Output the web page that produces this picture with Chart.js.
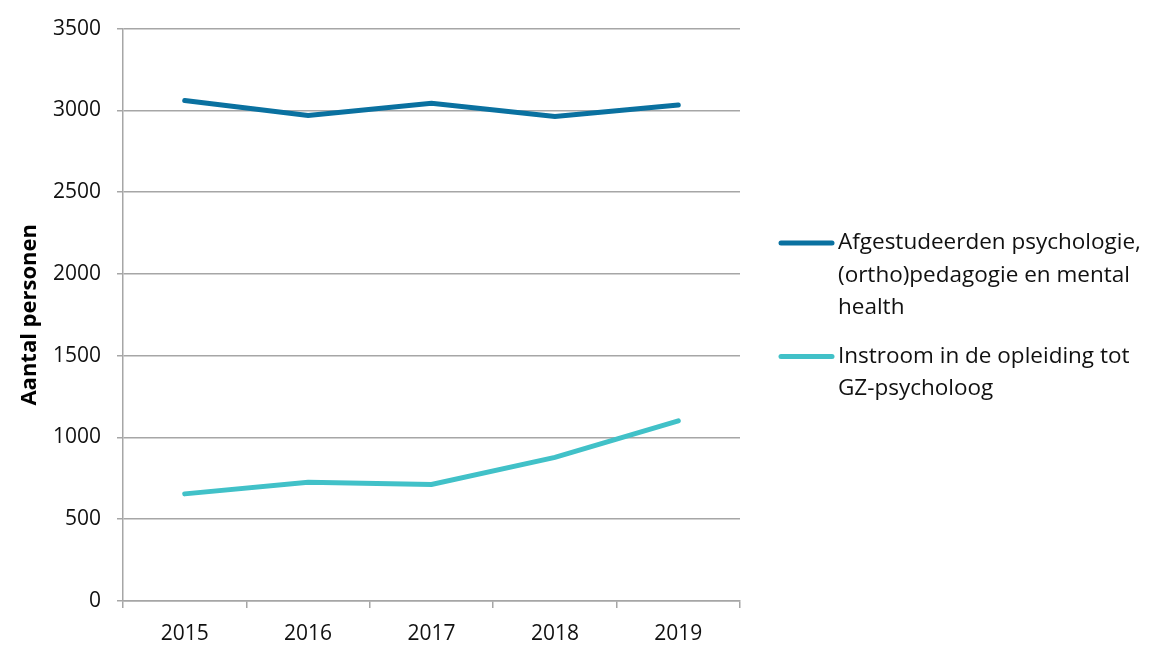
<!DOCTYPE html>
<html>
<head>
<meta charset="utf-8">
<script src="https://cdn.jsdelivr.net/npm/chart.js@4"></script>
<style>
  html, body { margin: 0; padding: 0; background: #fff; }
  #wrap { width: 1158px; height: 646px; }
</style>
</head>
<body>
<div id="wrap"><canvas id="myChart" width="1158" height="646"></canvas></div>
<script>
// chart data
const years = ['2015', '2016', '2017', '2018', '2019'];
const afgestudeerden = [3060, 2968, 3043, 2962, 3033];
const instroom = [655, 726, 712, 878, 1102];
const seriesNames = [
  ['Afgestudeerden psychologie,', '(ortho)pedagogie en mental', 'health'],
  ['Instroom in de opleiding tot', 'GZ-psycholoog']
];
const yTicks = [0, 500, 1000, 1500, 2000, 2500, 3000, 3500];

const FONT = '"Open Sans", sans-serif';
const gridGrey = '#a6a6a6';

/**
 * draws the legend on the right side, with wrapped labels like the original
 */
const sideLegend = {
  id: 'sideLegend',
  afterDraw (chart) {
    const ctx = chart.ctx;
    const lineH = 32.5;
    let y = 243;
    ctx.save();
    chart.data.datasets.forEach((ds, i) => {
      ctx.strokeStyle = ds.borderColor;
      ctx.lineWidth = 5;
      ctx.lineCap = 'round';
      ctx.beginPath();
      ctx.moveTo(781, y);
      ctx.lineTo(832, y);
      ctx.stroke();
      ctx.fillStyle = '#111';
      ctx.font = '22.5px ' + FONT;
      ctx.textBaseline = 'middle';
      ctx.textAlign = 'left';
      seriesNames[i].forEach((txt, j) => {
        ctx.fillText(txt, 838, y + j * lineH);
      });
      y += seriesNames[i].length * lineH + 16;
    });
    ctx.restore();
  }
};

const data = {
  labels: years,
  datasets: [{
    label: seriesNames[0].join(' '),
    data: afgestudeerden,
    borderColor: '#0a71a0',
    backgroundColor: '#0a71a0',
    borderWidth: 5,
    borderCapStyle: 'round',
    pointRadius: 0,
    tension: 0
  }, {
    label: seriesNames[1].join(' '),
    data: instroom,
    borderColor: '#41c1c8',
    backgroundColor: '#41c1c8',
    borderWidth: 5,
    borderCapStyle: 'round',
    pointRadius: 0,
    tension: 0
  }]
};

const config = {
  type: 'line',
  data,
  plugins: [sideLegend],
  options: {
    responsive: false,
    animation: false,
    layout: { padding: { top: 26, right: 418, left: 17, bottom: 0 } },
    plugins: {
      legend: { display: false },
      tooltip: { enabled: false }
    },
    scales: {
      x: {
        offset: true,
        afterFit: (s) => { s.height = 45; },
        grid: {
          offset: true,
          drawOnChartArea: false,
          drawTicks: true,
          tickLength: 7,
          color: gridGrey,
          lineWidth: 1.5
        },
        border: { color: gridGrey, width: 1.5 },
        ticks: { color: '#111', font: { family: FONT, size: 21 }, padding: 13, maxRotation: 0 }
      },
      y: {
        min: 0,
        max: 3500,
        afterFit: (s) => { s.width = 106; },
        afterBuildTicks: (s) => { s.ticks = yTicks.map(v => ({ value: v })); },
        grid: {
          color: gridGrey,
          lineWidth: 1.5,
          drawTicks: true,
          tickLength: 6
        },
        border: { color: gridGrey, width: 1.5 },
        ticks: {
          color: '#111',
          font: { family: FONT, size: 21 },
          padding: 16,
          callback: (v) => String(v)
        },
        title: {
          display: true,
          text: 'Aantal personen',
          color: '#000',
          font: { family: FONT, size: 22, weight: 'bold' },
          padding: { top: 0, bottom: 0 }
        }
      }
    }
  }
};

const myChart = new Chart(document.getElementById('myChart'), config);
</script>
</body>
</html>
